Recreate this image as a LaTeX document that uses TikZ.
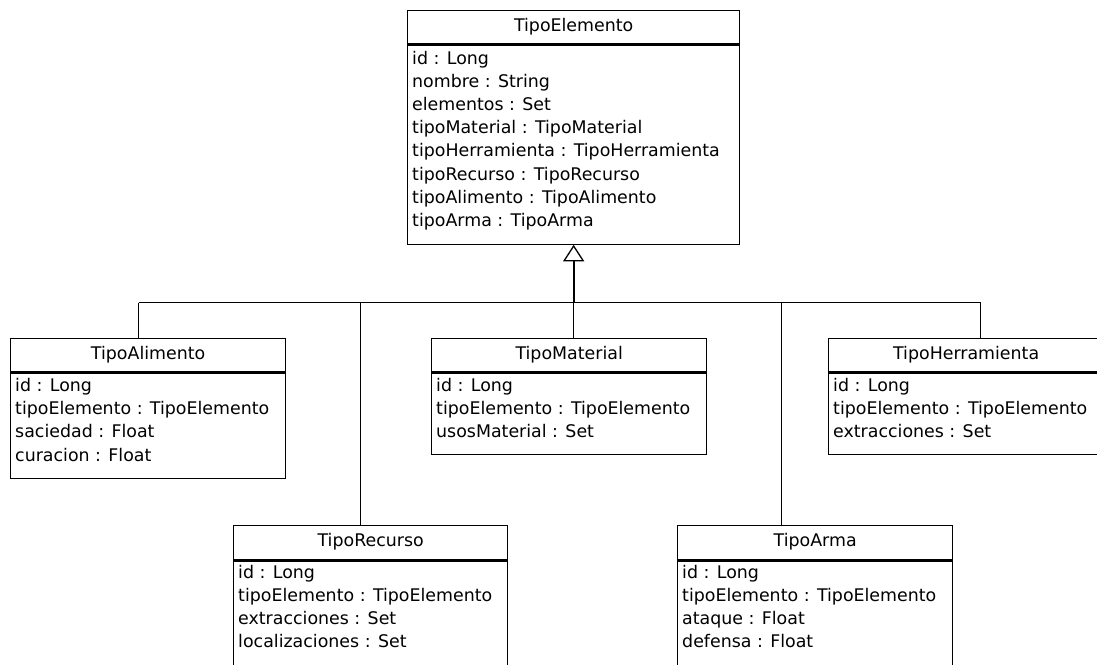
\documentclass[tikz,border=0pt]{standalone}
\usepackage{fontspec}
\setmainfont{DejaVu Sans}
\usetikzlibrary{arrows.meta,calc}
\begin{document}
\begin{tikzpicture}[x=1pt,y=-1pt,
  umlfont/.style={font=\fontsize{17.4pt}{20pt}\selectfont},
  classtitle/.style={draw, line width=1.3pt, umlfont, inner sep=0pt,
    text height=12.5pt, text depth=4pt, anchor=north west},
  classbody/.style={draw, line width=1.3pt, inner sep=0pt, anchor=north west},
  attr/.style={umlfont, inner sep=0pt, anchor=base west},
  divider/.style={line width=3pt},
  link/.style={line width=1.1pt},
  generalization/.style={line width=2pt,
    -{Triangle[open, width=21pt, length=16.5pt, line width=1.3pt]}},
]
\useasboundingbox (0,0) rectangle (1097,664);
\clip (0,0) rectangle (1097,664);

% ---- TipoElemento
\node[classbody, minimum width=332pt, minimum height=200pt] (te-body) at (407,43.5) {};
\node[classtitle, minimum width=332pt, minimum height=33.5pt] (te) at (407,10) {TipoElemento};
\draw[divider] (te.south west) -- (te.south east);
\foreach \t [count=\i] in {id : Long, nombre : String, elementos : Set,
    tipoMaterial : TipoMaterial, tipoHerramienta : TipoHerramienta,
    tipoRecurso : TipoRecurso, tipoAlimento : TipoAlimento, tipoArma : TipoArma}
  \node[attr] (te-\i) at ($(te-body.north west)+(5,{21+23.1*(\i-1)})$) {\t};

% ---- TipoAlimento
\node[classbody, minimum width=275pt, minimum height=107pt] (ta-body) at (10,371) {};
\node[classtitle, minimum width=275pt, minimum height=33.5pt] (ta) at (10,337.5) {TipoAlimento};
\draw[divider] (ta.south west) -- (ta.south east);
\foreach \t [count=\i] in {id : Long, tipoElemento : TipoElemento,
    saciedad : Float, curacion : Float}
  \node[attr] (ta-\i) at ($(ta-body.north west)+(5,{20.5+23.2*(\i-1)})$) {\t};

% ---- TipoMaterial
\node[classbody, minimum width=275pt, minimum height=83pt] (tm-body) at (431,371) {};
\node[classtitle, minimum width=275pt, minimum height=33.5pt] (tm) at (431,337.5) {TipoMaterial};
\draw[divider] (tm.south west) -- (tm.south east);
\foreach \t [count=\i] in {id : Long, tipoElemento : TipoElemento, usosMaterial : Set}
  \node[attr] (tm-\i) at ($(tm-body.north west)+(5,{20.5+23.2*(\i-1)})$) {\t};

% ---- TipoHerramienta
\node[classbody, minimum width=275pt, minimum height=83pt] (th-body) at (828,371) {};
\node[classtitle, minimum width=275pt, minimum height=33.5pt] (th) at (828,337.5) {TipoHerramienta};
\draw[divider] (th.south west) -- (th.south east);
\foreach \t [count=\i] in {id : Long, tipoElemento : TipoElemento, extracciones : Set}
  \node[attr] (th-\i) at ($(th-body.north west)+(5,{20.5+23.2*(\i-1)})$) {\t};

% ---- TipoRecurso
\node[classbody, minimum width=274pt, minimum height=120pt] (tr-body) at (233,559) {};
\node[classtitle, minimum width=274pt, minimum height=34.5pt] (tr) at (233,524.5) {TipoRecurso};
\draw[divider] (tr.south west) -- (tr.south east);
\foreach \t [count=\i] in {id : Long, tipoElemento : TipoElemento,
    extracciones : Set, localizaciones : Set}
  \node[attr] (tr-\i) at ($(tr-body.north west)+(5,{19+23.2*(\i-1)})$) {\t};

% ---- TipoArma
\node[classbody, minimum width=275pt, minimum height=120pt] (tw-body) at (677,559) {};
\node[classtitle, minimum width=275pt, minimum height=34.5pt] (tw) at (677,524.5) {TipoArma};
\draw[divider] (tw.south west) -- (tw.south east);
\foreach \t [count=\i] in {id : Long, tipoElemento : TipoElemento,
    ataque : Float, defensa : Float}
  \node[attr] (tw-\i) at ($(tw-body.north west)+(5,{19+23.2*(\i-1)})$) {\t};

% ---- inheritance tree
\coordinate (busy) at (0,302.5);
\coordinate (j-ta) at (138.5,302.5);
\coordinate (j-tr) at (360.5,302.5);
\coordinate (j-tm) at (te-body.south |- busy);
\coordinate (j-tw) at (781.5,302.5);
\coordinate (j-th) at (980.5,302.5);
\draw[link] (j-ta) -- (j-th);
\draw[link] (j-ta) -- (j-ta |- ta.north);
\draw[link] (j-tr) -- (j-tr |- tr.north);
\draw[link] (j-tm) -- (j-tm |- tm.north);
\draw[link] (j-tw) -- (j-tw |- tw.north);
\draw[link] (j-th) -- (j-th |- th.north);
\draw[generalization] (j-tm) -- (te-body.south);
\end{tikzpicture}
\end{document}
